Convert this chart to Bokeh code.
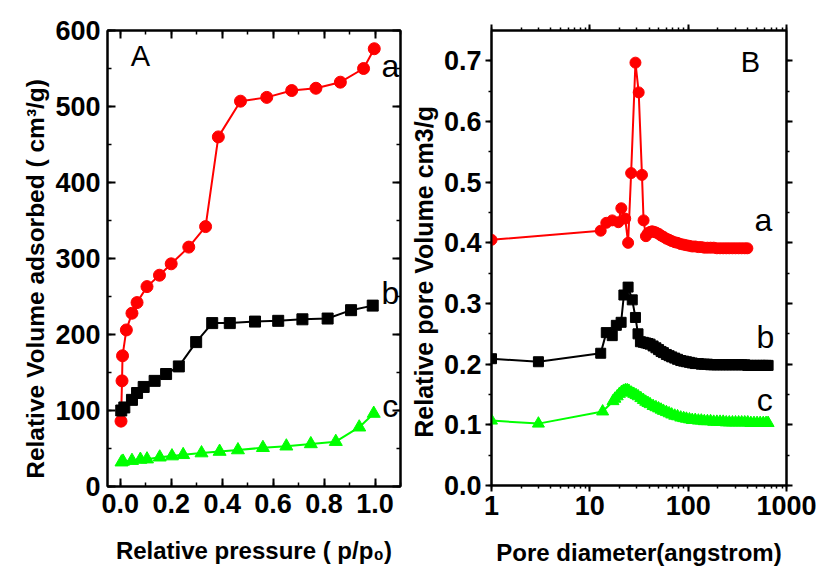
from bokeh.plotting import figure
from bokeh.layouts import row
from bokeh.models import (Range1d, LinearAxis, LogAxis, SingleIntervalTicker, LogTicker,
                          NumeralTickFormatter, CustomLabelingPolicy)
from bokeh.core.properties import value
from bokeh.embed import file_html
from bokeh.resources import INLINE

# ---------------- Panel A: N2 isotherms ----------------
a_p = [0.003, 0.007, 0.009, 0.024, 0.046, 0.066, 0.105, 0.154, 0.20, 0.269, 0.335,
       0.385, 0.472, 0.575, 0.673, 0.768, 0.864, 0.955, 0.997]
a_v = [86, 139, 172, 206, 228, 242, 263, 278, 293, 315, 342,
       460, 507, 512, 521, 524, 532, 550, 576]

b_p = [0.004, 0.016, 0.046, 0.066, 0.092, 0.135, 0.18, 0.23, 0.298, 0.361, 0.43,
       0.529, 0.62, 0.715, 0.814, 0.906, 0.991]
b_v = [100, 104, 114, 123, 131, 139, 148, 158, 190, 215, 215,
       217, 218, 220, 221, 232, 238]

c_p = [0.005, 0.011, 0.046, 0.079, 0.105, 0.155, 0.203, 0.247, 0.319, 0.39, 0.462,
       0.56, 0.652, 0.748, 0.846, 0.938, 0.995]
c_v = [32, 33, 34, 35.5, 36, 38.5, 40, 41.7, 44, 46, 48,
       51, 53, 56, 59, 78, 96]

# ---------------- Panel B: pore size distributions ----------------
ra_d = [1, 12.9, 14.7, 16.9, 19.5, 20.9, 22.9, 24.5, 26.3, 29.1, 31.4, 33.9, 35.2, 37.2,
        39, 41, 43, 45, 47, 50, 53, 56, 60,
        64, 68, 73, 78, 84, 90, 96, 103, 110, 118,
        127, 136, 146, 157, 169, 182, 196, 211, 227, 244,
        262, 282, 303, 326, 350, 376, 400]
ra_v = [0.405, 0.420, 0.433, 0.437, 0.434, 0.457, 0.440, 0.400, 0.515, 0.697, 0.648, 0.512, 0.437, 0.411,
        0.416, 0.418, 0.419, 0.418, 0.417, 0.415, 0.412, 0.410, 0.407,
        0.405, 0.403, 0.401, 0.400, 0.398, 0.397, 0.396, 0.395, 0.394, 0.394,
        0.393, 0.393, 0.392, 0.392, 0.392, 0.392, 0.391, 0.391, 0.391, 0.391,
        0.391, 0.391, 0.391, 0.391, 0.391, 0.391, 0.391]

rb_d = [1, 3, 12.9, 14.7, 16.9, 18.6, 20.8, 22.2, 24.5, 27, 29.1, 30.9, 32.7,
        35, 37, 39, 41, 44, 47, 50, 53, 56, 60,
        64, 68, 73, 78, 84, 90, 96, 103, 110, 118,
        127, 136, 146, 157, 169, 182, 196, 211, 227, 244,
        262, 282, 303, 326, 350, 376, 404, 434, 467, 502,
        540, 580, 620, 650]
rb_v = [0.209, 0.204, 0.218, 0.252, 0.247, 0.264, 0.269, 0.314, 0.327, 0.306, 0.277, 0.250, 0.237,
        0.236, 0.235, 0.234, 0.233, 0.230, 0.227, 0.224, 0.221, 0.219, 0.216,
        0.214, 0.212, 0.210, 0.208, 0.206, 0.205, 0.204, 0.203, 0.202, 0.201,
        0.201, 0.200, 0.200, 0.200, 0.199, 0.199, 0.199, 0.199, 0.199, 0.199,
        0.199, 0.199, 0.199, 0.199, 0.199, 0.199, 0.198, 0.198, 0.198, 0.198,
        0.198, 0.198, 0.198, 0.198]

rc_d = [1, 3, 13.5, 17.2,
        18, 19, 20, 21, 22, 23, 24, 25,
        26.5, 28, 29.5, 31, 33, 35, 37, 39, 41,
        44, 47, 50, 53, 56, 60, 64, 68, 73, 78,
        84, 90, 96, 103, 110, 118, 127, 136, 146, 157,
        169, 182, 196, 211, 227, 244, 262, 282, 303, 326,
        350, 376, 404, 434, 467, 502, 540, 580, 620, 650]
rc_v = [0.107, 0.102, 0.122, 0.139,
        0.143, 0.147, 0.151, 0.154, 0.156, 0.157, 0.157, 0.156,
        0.153, 0.151, 0.149, 0.147, 0.144, 0.141, 0.138, 0.136, 0.134,
        0.131, 0.129, 0.127, 0.125, 0.123, 0.121, 0.119, 0.117, 0.115, 0.114,
        0.112, 0.111, 0.110, 0.109, 0.108, 0.108, 0.107, 0.107, 0.106, 0.106,
        0.106, 0.105, 0.105, 0.105, 0.105, 0.104, 0.104, 0.104, 0.104, 0.104,
        0.104, 0.104, 0.104, 0.103, 0.103, 0.103, 0.103, 0.103, 0.103, 0.103]

# annotation texts
A_lbl_x = [0.079, 1.06, 1.06, 1.06]
A_lbl_y = [566, 553, 254, 106]
A_lbl_t = ["A", "a", "b", "c"]
B_lbl_x = [429, 583, 611, 600]
B_lbl_y = [0.698, 0.437, 0.244, 0.141]
B_lbl_t = ["B", "a", "b", "c"]

RED = "#ff0000"
GREEN = "#00ff00"
FONT = "Liberation Sans"
NB = "\u00a0"

HIDE_ALL = "for (const i of indices) { indices.unset(i) }\nreturn indices"


def style_axis(ax, inward, labels=True, size="27px"):
    ax.axis_line_width = 2
    ax.major_tick_line_width = 2
    ax.minor_tick_line_width = 1.5
    if inward:
        ax.major_tick_in, ax.major_tick_out = 8, 0
        ax.minor_tick_in, ax.minor_tick_out = 4, 0
    else:
        ax.major_tick_in, ax.major_tick_out = 0, 6
        ax.minor_tick_in, ax.minor_tick_out = 0, 3
    ax.major_label_text_font = FONT
    ax.major_label_text_font_style = "bold"
    ax.major_label_text_color = "black"
    ax.axis_label_text_font = FONT
    ax.axis_label_text_font_style = "bold"
    ax.axis_label_text_font_size = "24px"
    ax.axis_label_text_color = "black"
    if labels:
        ax.major_label_text_font_size = size
    else:
        ax.major_label_text_font_size = "2px"
        ax.major_label_standoff = 0
        ax.major_label_policy = CustomLabelingPolicy(code=HIDE_ALL)


# ---------------- figure A ----------------
pA = figure(x_range=Range1d(-0.05, 1.1), y_range=Range1d(0, 600),
            frame_width=293, frame_height=456,
            min_border_left=107, min_border_right=5, min_border_top=30, min_border_bottom=85,
            output_backend="svg", toolbar_location=None)
pA.xgrid.visible = False
pA.ygrid.visible = False
pA.outline_line_color = "black"
pA.outline_line_width = 2

xtA = SingleIntervalTicker(interval=0.2, num_minor_ticks=2)
ytA = SingleIntervalTicker(interval=100, num_minor_ticks=2)
pA.xaxis.ticker = xtA
pA.yaxis.ticker = ytA
pA.xaxis.formatter = NumeralTickFormatter(format="0.0")
pA.xaxis.axis_label = "Relative pressure ( p/p\u2080)"
pA.yaxis.axis_label = "Relative Volume adsorbed ( cm\u00b3/g)" + NB * 6
style_axis(pA.xaxis[0], True)
style_axis(pA.yaxis[0], True)
pA.yaxis.axis_label_text_font_size = "24.5px"
pA.xaxis.major_label_standoff = 7
pA.yaxis.major_label_standoff = 7
pA.xaxis.axis_label_standoff = 21
pA.yaxis.axis_label_standoff = 3
topA = LinearAxis(ticker=xtA)
rightA = LinearAxis(ticker=ytA)
style_axis(topA, True, labels=False)
style_axis(rightA, True, labels=False)
pA.add_layout(topA, "above")
pA.add_layout(rightA, "right")

pA.line(a_p, a_v, color=RED, line_width=2)
pA.scatter(a_p, a_v, marker="circle", size=12, color=RED)
pA.line(b_p, b_v, color="black", line_width=2)
pA.scatter(b_p, b_v, marker="square", size=11, color="black")
pA.line(c_p, c_v, color=GREEN, line_width=2)
pA.scatter(c_p, c_v, marker="triangle", size=13, color=GREEN)

pA.text(x=A_lbl_x[:1], y=A_lbl_y[:1], text=A_lbl_t[:1], text_font=value(FONT),
        text_font_size="29px", text_align="center", text_baseline="middle", text_color="black")
pA.text(x=A_lbl_x[1:], y=A_lbl_y[1:], text=A_lbl_t[1:], text_font=value(FONT),
        text_font_size="32px", text_align="center", text_baseline="middle", text_color="black")

# ---------------- figure B ----------------
pB = figure(x_axis_type="log", x_range=Range1d(1, 1000), y_range=Range1d(0, 0.75),
            frame_width=295, frame_height=455,
            min_border_left=83, min_border_right=33, min_border_top=30, min_border_bottom=86,
            output_backend="svg", toolbar_location=None)
pB.xgrid.visible = False
pB.ygrid.visible = False
pB.outline_line_color = "black"
pB.outline_line_width = 2

xtB = LogTicker(num_minor_ticks=10)
ytB = SingleIntervalTicker(interval=0.1, num_minor_ticks=2)
pB.xaxis.ticker = xtB
pB.yaxis.ticker = ytB
pB.xaxis.formatter = NumeralTickFormatter(format="0")
pB.yaxis.formatter = NumeralTickFormatter(format="0.0")
pB.xaxis.axis_label = "Pore diameter(angstrom)"
pB.yaxis.axis_label = "Relative pore Volume cm3/g" + NB * 4
style_axis(pB.xaxis[0], False)
style_axis(pB.yaxis[0], False)
pB.yaxis.axis_label_text_font_size = "25px"
pB.xaxis.major_label_standoff = 4
pB.yaxis.major_label_standoff = 4
pB.xaxis.axis_label_standoff = 21
pB.yaxis.axis_label_standoff = 3
topB = LogAxis(ticker=xtB)
rightB = LinearAxis(ticker=ytB)
style_axis(topB, False, labels=False)
style_axis(rightB, False, labels=False)
pB.add_layout(topB, "above")
pB.add_layout(rightB, "right")

pB.line(ra_d, ra_v, color=RED, line_width=2)
pB.scatter(ra_d, ra_v, marker="circle", size=11, color=RED)
pB.line(rb_d, rb_v, color="black", line_width=2)
pB.scatter(rb_d, rb_v, marker="square", size=10, color="black")
pB.line(rc_d, rc_v, color=GREEN, line_width=2)
pB.scatter(rc_d, rc_v, marker="triangle", size=12, color=GREEN)

pB.text(x=B_lbl_x[:1], y=B_lbl_y[:1], text=B_lbl_t[:1], text_font=value(FONT),
        text_font_size="29px", text_align="center", text_baseline="middle", text_color="black")
pB.text(x=B_lbl_x[1:], y=B_lbl_y[1:], text=B_lbl_t[1:], text_font=value(FONT),
        text_font_size="32px", text_align="center", text_baseline="middle", text_color="black")

layout = row(pA, pB)
open("out.html", "w").write(file_html(layout, INLINE))
